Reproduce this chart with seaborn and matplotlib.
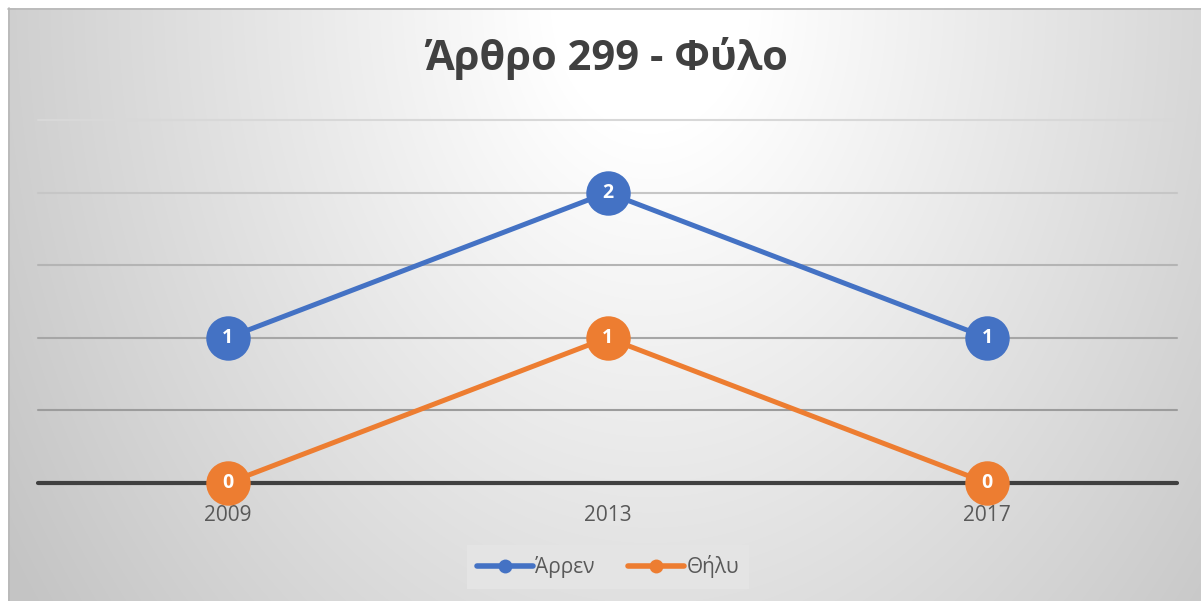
import numpy as np
import pandas as pd
import matplotlib
matplotlib.use("Agg")
import matplotlib.pyplot as plt
from matplotlib.lines import Line2D
import seaborn as sns

# data
years = ["2009", "2013", "2017"]
male = [1, 2, 1]
female = [0, 1, 0]
series_names = ["Άρρεν", "Θήλυ"]
colors = ["#4472C4", "#ED7D31"]
title = "Άρθρο 299 - Φύλο"

df = pd.DataFrame({
    "year": years * 2,
    "count": male + female,
    "sex": [series_names[0]] * len(years) + [series_names[1]] * len(years),
})

sns.set_theme(style="white")
plt.rcParams["font.family"] = ["Open Sans", "DejaVu Sans"]

W, H = 1201, 601
fig = plt.figure(figsize=(W / 100, H / 100), dpi=100)
fig.patch.set_facecolor("white")

# radial grey background, light spot near top centre
bg_ax = fig.add_axes([0, 0, 1, 1], zorder=-10)
yy, xx = np.mgrid[0:H, 0:W]
d = np.sqrt((xx - 650.0) ** 2 + ((yy - 0.0) * 0.75) ** 2)
shade = np.clip(255 - 0.088 * np.clip(d - 100, 0, None), 196, 255) / 255.0
img = np.dstack([shade, shade, shade])
img[:8, :, :] = 1.0
img[:, :8, :] = 1.0
bg_ax.imshow(img, extent=(0, W, H, 0), aspect="auto", interpolation="bilinear")
bg_ax.plot([8, W], [8.5, 8.5], color="#b8b8b8", lw=1.2)
bg_ax.plot([8.5, 8.5], [8, H], color="#b8b8b8", lw=1.2)
bg_ax.set_xlim(0, W)
bg_ax.set_ylim(H, 0)
bg_ax.axis("off")

ax = fig.add_axes([38 / W, 1 - 483 / H, 1139 / W, 363 / H])
ax.patch.set_alpha(0)

# gridlines, darker towards the bottom
grid_levels = [0.5, 1.0, 1.5, 2.0, 2.5]
grid_cols = ["#9c9c9c", "#a6a6a6", "#b4b4b4", "#c6c6c6", "#d8d8d8"]
for lv, gc in zip(grid_levels, grid_cols):
    ax.axhline(lv, color=gc, lw=1.5, zorder=1, clip_on=False)
ax.axhline(0, color="#404040", lw=3, zorder=2, clip_on=False)

sns.lineplot(data=df, x="year", y="count", hue="sex", palette=colors,
             marker="o", markersize=32, markeredgewidth=0, linewidth=3.6,
             sort=False, legend=False, ax=ax, zorder=3)
for ln in ax.lines:
    ln.set_clip_on(False)

for vals in [male, female]:
    for i, v in enumerate(vals):
        ax.text(i, v, str(v), color="white", fontsize=14, fontweight="bold",
                ha="center", va="center", zorder=5)

ax.set_xlim(-0.5, 2.5)
ax.set_ylim(0, 2.5)
ax.set_yticks([])
ax.set_xlabel("")
ax.set_ylabel("")
ax.tick_params(axis="x", length=0, pad=16, labelsize=15, labelcolor="#595959")
for sp in ax.spines.values():
    sp.set_visible(False)

fig.text(607 / W, 1 - 58 / H, title, ha="center", va="center",
         fontsize=30, fontweight="bold", color="#404040")

handles = [Line2D([0], [0], color=c, lw=4, marker="o", markersize=10,
                  markeredgewidth=0) for c in colors]
leg = fig.legend(handles, series_names, loc="center", ncol=2,
                 bbox_to_anchor=(608 / W, 1 - 567 / H), frameon=True,
                 fancybox=False, facecolor="#e4e4e4", edgecolor="none",
                 framealpha=1, fontsize=15, handlelength=2.7,
                 handletextpad=0.1, columnspacing=1.6, borderpad=0.5)
for t in leg.get_texts():
    t.set_color("#595959")

fig.savefig("out.png", dpi=100)
